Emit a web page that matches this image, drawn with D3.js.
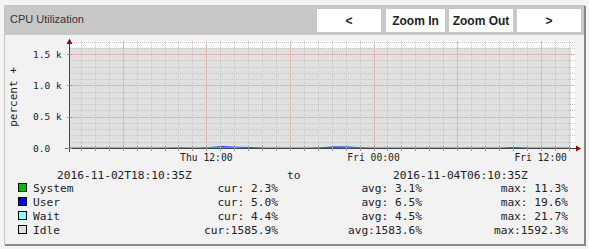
<!DOCTYPE html>
<html>
<head>
<meta charset="utf-8">
<script src="https://cdn.jsdelivr.net/npm/d3@7"></script>
<style>
  body { margin: 0; background: #f4f4f4; }
  svg { display: block; }
</style>
</head>
<body>
<div id="chart"></div>
<script>
// chart data (hourly samples, hours after the start of the window)
var hourOffsets = [0, 1, 2, 3, 4, 5, 6, 7, 8, 9, 10, 11, 12, 13, 14, 15, 16, 17, 18,
  19, 20, 21, 22, 23, 24, 25, 26, 27, 28, 29, 30, 31, 32, 33, 34, 35, 36];
var systemValues = [2.6, 2.4, 2.5, 2.8, 3.0, 2.7, 2.5, 2.9, 3.4, 4.1, 6.2, 11.3, 7.5, 5.8, 3.2, 2.6, 2.4, 2.8, 3.1,
  5.4, 6.9, 3.6, 2.5, 2.3, 2.2, 2.4, 2.6, 2.5, 2.7, 2.4, 2.6, 3.0, 4.8, 2.9, 2.5, 2.4, 2.3];
var userValues = [5.2, 4.8, 4.9, 5.3, 5.6, 5.1, 4.9, 6.0, 7.8, 5.5, 9.4, 17.2, 13.5, 10.8, 6.2, 5.1, 4.7, 6.5, 8.9,
  19.6, 16.1, 7.3, 5.0, 4.6, 4.5, 4.8, 5.2, 4.9, 5.1, 4.7, 5.0, 6.3, 12.4, 5.8, 5.1, 4.9, 5.0];
var waitValues = [4.3, 4.2, 4.4, 4.5, 4.6, 4.3, 4.2, 4.8, 5.6, 4.4, 6.1, 21.7, 8.2, 5.3, 4.4, 4.2, 4.1, 4.3, 4.7,
  9.8, 7.4, 4.5, 4.2, 4.1, 4.0, 4.2, 4.3, 4.2, 4.4, 4.1, 4.2, 4.5, 6.8, 4.4, 4.3, 4.2, 4.4];
var idleValues = [1586.8, 1588.1, 1587.6, 1586.9, 1586.2, 1587.4, 1588.0, 1585.6, 1581.9, 1585.2, 1577.5, 1548.2,
  1569.8, 1577.1, 1585.4, 1587.6, 1588.5, 1585.9, 1578.6, 1550.5, 1556.9, 1583.9, 1587.7, 1588.4, 1589.0, 1588.1,
  1587.3, 1587.9, 1587.2, 1588.3, 1587.6, 1585.6, 1575.4, 1586.3, 1587.5, 1592.3, 1585.9];

var seriesNames = ["System", "User", "Wait", "Idle"];
var seriesColors = ["#00c000", "#0000ff", "#80ffff", "#e0e0e0"];
var curLabels = ["2.3", "5.0", "4.4", "1585.9"];
var avgLabels = ["3.1", "6.5", "4.5", "1583.6"];
var maxLabels = ["11.3", "19.6", "21.7", "1592.3"];

var yTickValues = [0, 500, 1000, 1500];
var yTickLabels = ["0.0", "0.5 k", "1.0 k", "1.5 k"];
var startLabel = "2016-11-02T18:10:35Z";
var endLabel = "2016-11-04T06:10:35Z";
var buttonLabels = ["<", "Zoom In", "Zoom Out", ">"];

// window start shown in local time (UTC+8)
var startTime = Date.UTC(2016, 10, 3, 2, 10, 35);
var endTime = Date.UTC(2016, 10, 4, 14, 10, 35);

var mono = "DejaVu Sans Mono, monospace";

var svg = d3.select("#chart")
  .append("svg")
  .attr("width", 589)
  .attr("height", 249);

// panel
svg.append("rect")
  .attr("x", 4.5).attr("y", 5.5)
  .attr("width", 580).attr("height", 239)
  .attr("fill", "#f2f2f2")
  .attr("stroke", "#c4c4c4");
svg.append("path")
  .attr("d", "M585,6V245H5")
  .attr("fill", "none")
  .attr("stroke", "#8a8a8a")
  .attr("stroke-width", 2);

// header bar
svg.append("rect")
  .attr("x", 5).attr("y", 6)
  .attr("width", 579).attr("height", 29)
  .attr("fill", "#c8c8c8");
svg.append("text")
  .attr("x", 10).attr("y", 23)
  .attr("font-family", "Liberation Sans, Arial, sans-serif")
  .attr("font-size", "11px")
  .attr("fill", "#333")
  .text("CPU Utilization");

var buttonBox = [[317, 381], [386, 445], [449, 513], [517, 581]];
var buttons = svg.selectAll(".btn")
  .data(buttonLabels)
  .enter()
  .append("g")
  .attr("class", "btn");
buttons.append("rect")
  .attr("x", (d, i) => buttonBox[i][0])
  .attr("y", 9)
  .attr("width", (d, i) => buttonBox[i][1] - buttonBox[i][0])
  .attr("height", 23)
  .attr("fill", "#fff");
buttons.append("text")
  .attr("x", (d, i) => (buttonBox[i][0] + buttonBox[i][1]) / 2)
  .attr("y", 25)
  .attr("text-anchor", "middle")
  .attr("font-family", "Liberation Sans, Arial, sans-serif")
  .attr("font-size", "12px")
  .attr("font-weight", "bold")
  .attr("fill", "#222")
  .text(d => d);

// plot area
var plot = { left: 70, right: 575, top: 41, bottom: 148 };

var x = d3.scaleUtc()
  .domain([startTime, endTime])
  .range([69.5, 571]);
var y = d3.scaleLinear()
  .domain([0, 1700])
  .range([148, 41.5]);

svg.append("rect")
  .attr("x", plot.left).attr("y", plot.top)
  .attr("width", plot.right - plot.left)
  .attr("height", plot.bottom - plot.top)
  .attr("fill", "#fff");

// stacked areas
var rows = hourOffsets.map(function(h, i) {
  return {
    time: startTime + h * 3600000,
    System: systemValues[i],
    User: userValues[i],
    Wait: waitValues[i],
    Idle: idleValues[i]
  };
});
var stacked = d3.stack().keys(seriesNames)(rows);
var area = d3.area()
  .x(d => x(d.data.time))
  .y0(d => y(d[0]))
  .y1(d => y(d[1]));

svg.append("g")
  .selectAll("path")
  .data(stacked.slice().reverse())
  .enter()
  .append("path")
  .attr("d", area)
  .attr("fill", d => seriesColors[seriesNames.indexOf(d.key)]);

// grid: minor every hour / 100, major every 6 hours / 500
var grid = svg.append("g").attr("shape-rendering", "crispEdges");
var minorX = x.ticks(d3.utcHour.every(1)).filter(d => d.getUTCHours() % 6 !== 0);
var majorX = x.ticks(d3.utcHour.every(6));
var minorY = [100, 200, 300, 400, 600, 700, 800, 900, 1100, 1200, 1300, 1400, 1600, 1700];

function px(v) { return Math.round(v) + 0.5; }

grid.selectAll(".vminor")
  .data(minorX)
  .enter().append("line")
  .attr("x1", d => px(x(d))).attr("x2", d => px(x(d)))
  .attr("y1", plot.top).attr("y2", plot.bottom)
  .attr("stroke", "#c4c4c4")
  .attr("stroke-dasharray", "1,1");
grid.selectAll(".hminor")
  .data(minorY)
  .enter().append("line")
  .attr("x1", plot.left).attr("x2", plot.right)
  .attr("y1", d => px(y(d))).attr("y2", d => px(y(d)))
  .attr("stroke", "#c4c4c4")
  .attr("stroke-dasharray", "1,1");
grid.selectAll(".vmajor")
  .data(majorX)
  .enter().append("line")
  .attr("x1", d => px(x(d))).attr("x2", d => px(x(d)))
  .attr("y1", plot.top).attr("y2", plot.bottom)
  .attr("stroke", "#e8b4b4");
grid.selectAll(".hmajor")
  .data(yTickValues.slice(1))
  .enter().append("line")
  .attr("x1", plot.left).attr("x2", plot.right)
  .attr("y1", d => px(y(d))).attr("y2", d => px(y(d)))
  .attr("stroke", "#e8b4b4");

// axes
var axes = svg.append("g").attr("shape-rendering", "crispEdges");
axes.append("line")
  .attr("x1", 65).attr("x2", 576)
  .attr("y1", 148.5).attr("y2", 148.5)
  .attr("stroke", "#444");
axes.append("line")
  .attr("x1", 69.5).attr("x2", 69.5)
  .attr("y1", 152).attr("y2", 42)
  .attr("stroke", "#444");
axes.selectAll(".xt")
  .data(minorX.concat(majorX))
  .enter().append("line")
  .attr("x1", d => px(x(d))).attr("x2", d => px(x(d)))
  .attr("y1", 146).attr("y2", 151)
  .attr("stroke", "#999");
axes.selectAll(".yt")
  .data(yTickValues)
  .enter().append("line")
  .attr("x1", 67).attr("x2", 72)
  .attr("y1", d => px(y(d))).attr("y2", d => px(y(d)))
  .attr("stroke", "#999");
// arrow heads
svg.append("path")
  .attr("d", "M576,145.5L581,148.5L576,151.5Z")
  .attr("fill", "#8b1010");
svg.append("path")
  .attr("d", "M66.5,44L69.5,38.5L72.5,44Z")
  .attr("fill", "#8b1010");

// axis labels
svg.append("g")
  .selectAll("text")
  .data(yTickValues)
  .enter().append("text")
  .attr("x", 33)
  .attr("y", d => y(d) + 3.5)
  .attr("font-family", mono)
  .attr("font-size", "9.5px")
  .attr("fill", "#222")
  .text((d, i) => yTickLabels[i]);

svg.append("g")
  .selectAll("text")
  .data(x.ticks(d3.utcHour.every(12)))
  .enter().append("text")
  .attr("x", d => x(d))
  .attr("y", 161)
  .attr("text-anchor", "middle")
  .attr("font-family", mono)
  .attr("font-size", "9.7px")
  .attr("fill", "#222")
  .text(d => d3.utcFormat("%a %H:%M")(d));

svg.append("text")
  .attr("transform", "translate(17,97) rotate(-90)")
  .attr("text-anchor", "middle")
  .attr("font-family", mono)
  .attr("font-size", "11px")
  .attr("fill", "#222")
  .text("percent +");

// legend
var legend = svg.append("g")
  .attr("font-family", mono)
  .attr("font-size", "11.2px")
  .attr("fill", "#222")
  .style("white-space", "pre");

legend.append("text").attr("x", 57).attr("y", 179).text(startLabel);
legend.append("text").attr("x", 287).attr("y", 179).text("to");
legend.append("text").attr("x", 393).attr("y", 179).text(endLabel);

function pad(s, n) {
  while (s.length < n) s = " " + s;
  return s;
}

var rowsG = legend.selectAll(".row")
  .data(seriesNames)
  .enter().append("g")
  .attr("transform", (d, i) => "translate(0," + (192 + i * 14) + ")");
rowsG.append("rect")
  .attr("x", 18.5).attr("y", -8.5)
  .attr("width", 8).attr("height", 8)
  .attr("fill", (d, i) => seriesColors[i])
  .attr("stroke", "#000");
rowsG.append("text").attr("x", 33).text(d => d);
rowsG.append("text").attr("x", 278).attr("text-anchor", "end")
  .text((d, i) => "cur:" + pad(curLabels[i], 6) + "%");
rowsG.append("text").attr("x", 422).attr("text-anchor", "end")
  .text((d, i) => "avg:" + pad(avgLabels[i], 6) + "%");
rowsG.append("text").attr("x", 568).attr("text-anchor", "end")
  .text((d, i) => "max:" + pad(maxLabels[i], 6) + "%");
</script>
</body>
</html>
